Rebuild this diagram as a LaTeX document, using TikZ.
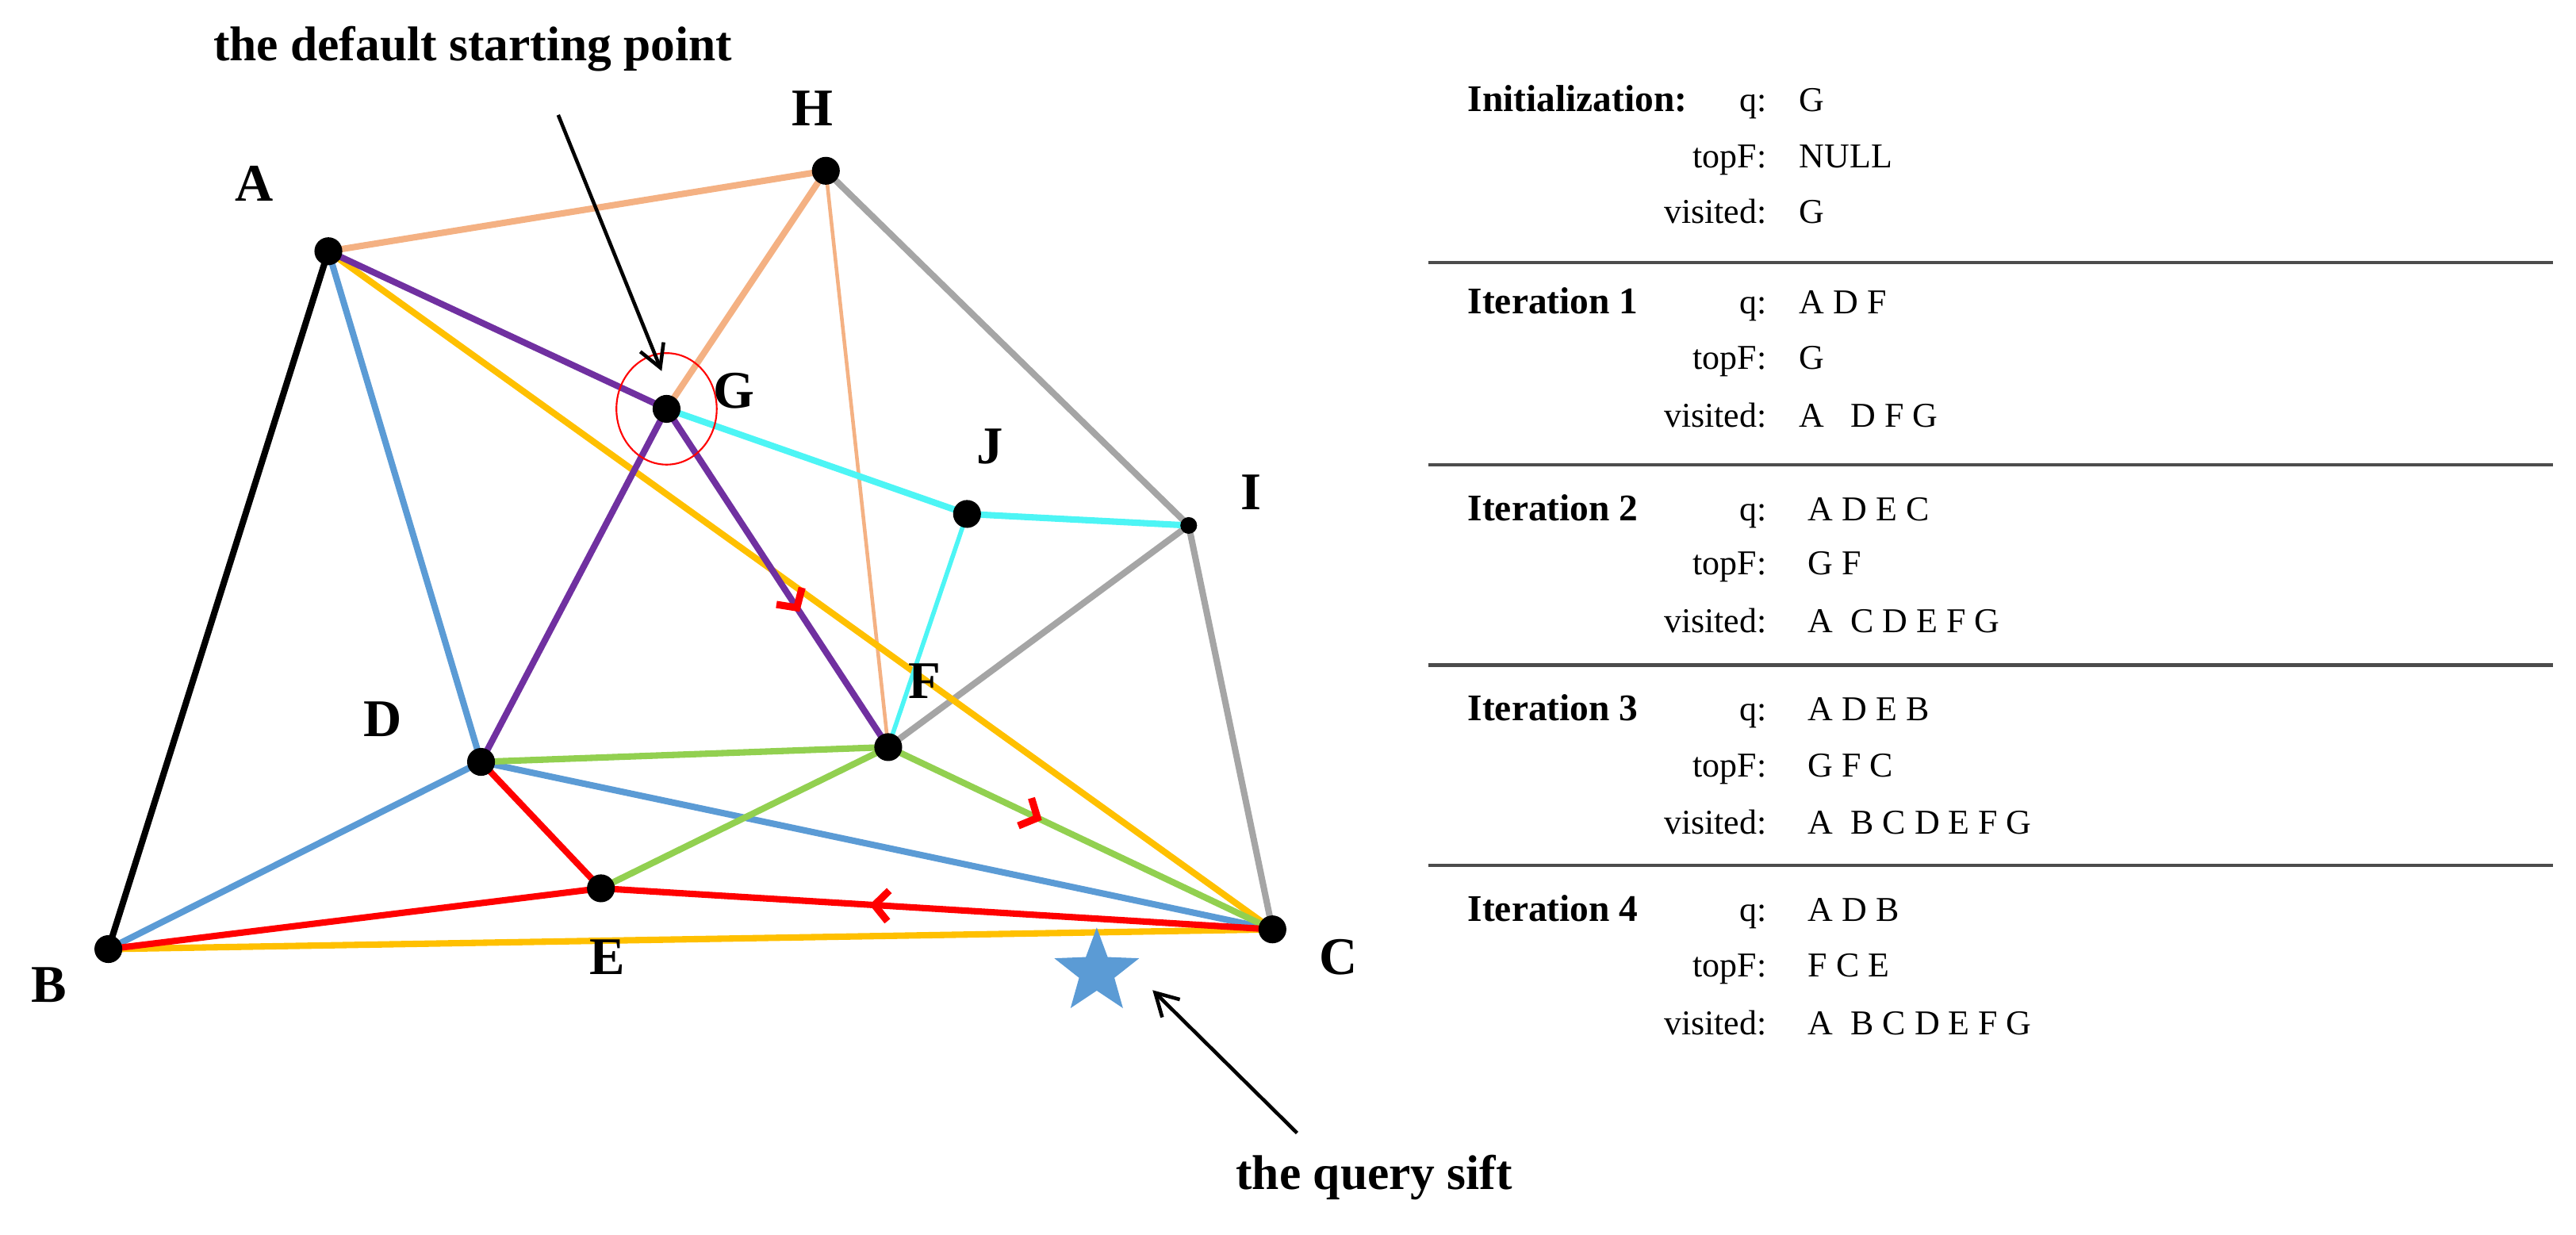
\documentclass[tikz,border=0pt]{standalone}
\usepackage{fontspec}
\setmainfont{Liberation Serif}
\usetikzlibrary{decorations.markings,arrows.meta,shapes.geometric}
\definecolor{peach}{HTML}{F4B183}
\definecolor{gry}{HTML}{A5A5A5}
\definecolor{blu}{HTML}{5B9BD5}
\definecolor{yel}{HTML}{FFC000}
\definecolor{pur}{HTML}{7030A0}
\definecolor{cya}{HTML}{4DF5F5}
\definecolor{grn}{HTML}{92D050}
\definecolor{rd}{HTML}{FF0000}
\tikzset{
 e/.style={line width=2.3pt},
 pt/.style={circle,fill=black,inner sep=0pt,minimum size=10pt},
 lab/.style={font=\fontsize{19}{22}\selectfont\bfseries},
 mid/.style={postaction={decorate},decoration={markings,mark=at position #1 with {\arrow[rd,line width=2.6pt]{Straight Barb[length=5pt,width=11pt]}}}},
 tl/.style={font=\fontsize{12.5}{14}\selectfont,anchor=base east},
 tv/.style={font=\fontsize{12.5}{14}\selectfont,anchor=base west},
 th/.style={font=\fontsize{13.5}{15}\selectfont\bfseries,anchor=base west},
 sep/.style={line width=1.2pt,draw=black!70}
}
\begin{document}
\begin{tikzpicture}[x=0.0207cm,y=-0.0207cm]
\useasboundingbox (0,0) rectangle (1569,752);
\coordinate (A) at (200,153); \coordinate (H) at (503,104); \coordinate (G) at (406,249);
\coordinate (J) at (589,313); \coordinate (I) at (724,320); \coordinate (F) at (541,455);
\coordinate (D) at (293,464); \coordinate (E) at (366,541); \coordinate (B) at (66,578);
\coordinate (C) at (775,566);
% edges
\draw[e,peach] (A)--(H); \draw[e,peach] (H)--(G); \draw[line width=1.3pt,peach] (H)--(F);
\draw[e,gry] (H)--(I); \draw[e,gry] (I)--(C); \draw[e,gry] (I)--(F);
\draw[e,yel] (A)--(C); \draw[e,yel] (B)--(C);
\draw[e,blu] (A)--(D); \draw[e,blu] (D)--(B); \draw[e,blu] (D)--(C);
\draw[e,black] (A)--(B);
\draw[e,pur] (A)--(G); \draw[e,pur] (G)--(D);
\draw[e,pur,mid=0.6] (G)--(F);
\draw[e,cya] (G)--(J); \draw[e,cya] (J)--(I); \draw[line width=1.6pt,cya] (J)--(F);
\draw[e,grn] (D)--(F); \draw[e,grn] (E)--(F); \draw[e,grn,mid=0.4] (F)--(C);
\draw[e,rd] (D)--(E); \draw[e,rd] (E)--(B); \draw[e,rd,mid=0.6] (C)--(E);
% points
\foreach \p in {A,H,G,J,F,D,E,B,C} \node[pt] (n\p) at (\p) {};
\node[pt,minimum size=6pt] (nI) at (I) {};
\node[draw=rd,line width=0.6pt,ellipse,minimum width=36pt,minimum height=40pt,inner sep=0pt] (ring) at (G) {};
% labels
\node[lab] (lA) at (155,112) {A}; \node[lab] (lH) at (495,66) {H};
\node[lab] (lG) at (447,238) {G}; \node[lab] (lJ) at (603,272) {J};
\node[lab] (lI) at (762,300) {I}; \node[lab] (lF) at (563,415) {F};
\node[lab] (lD) at (233,438) {D}; \node[lab] (lE) at (370,583) {E};
\node[lab] (lB) at (30,600) {B}; \node[lab] (lC) at (815,583) {C};
% star
\node[star,star points=5,star point ratio=2.4,fill=blu,minimum size=32pt,inner sep=0pt] (star) at (668,592) {};
% annotations
\node[font=\fontsize{17.5}{20}\selectfont\bfseries] (t1) at (288,30) {the default starting point};
\node[font=\fontsize{17.5}{20}\selectfont\bfseries] (t2) at (837,717) {the query sift};
\coordinate (a1s) at (340,70); \coordinate (a1e) at (403,226);
\coordinate (a2s) at (790,690); \coordinate (a2e) at (702,603);
\draw[line width=1.3pt,-{Straight Barb[length=8pt,width=9pt]}] (a1s)--(a1e);
\draw[line width=1.3pt,-{Straight Barb[length=8pt,width=9pt]}] (a2s)--(a2e);
% table
\def\cx{1082}\def\vx{1090}
\node[th] (h0) at (888,68) {Initialization:};
\node[tl] (q0) at (\cx,68) {q:}; \node[tv] (vq0) at (\vx,68) {G};
\node[tl] (f0) at (\cx,102) {topF:}; \node[tv] (vf0) at (\vx,102) {NULL};
\node[tl] (s0) at (\cx,136) {visited:}; \node[tv] (vs0) at (\vx,136) {G};
\draw[sep] (870,160)--(1555,160);
\node[th] (h1) at (888,191) {Iteration 1};
\node[tl] (q1) at (\cx,191) {q:}; \node[tv] (vq1) at (\vx,191) {A D F};
\node[tl] (f1) at (\cx,225) {topF:}; \node[tv] (vf1) at (\vx,225) {G};
\node[tl] (s1) at (\cx,260) {visited:}; \node[tv] (vs1) at (\vx,260) {A\ \ \ D F G};
\draw[sep] (870,283)--(1555,283);
\node[th] (h2) at (888,317) {Iteration 2};
\node[tl] (q2) at (\cx,317) {q:}; \node[tv] (vq2) at (\vx,317) {\ A D E C};
\node[tl] (f2) at (\cx,350) {topF:}; \node[tv] (vf2) at (\vx,350) {\ G F};
\node[tl] (s2) at (\cx,385) {visited:}; \node[tv] (vs2) at (\vx,385) {\ A\ \ C D E F G};
\draw[sep] (870,405)--(1555,405);
\node[th] (h3) at (888,439) {Iteration 3};
\node[tl] (q3) at (\cx,439) {q:}; \node[tv] (vq3) at (\vx,439) {\ A D E B};
\node[tl] (f3) at (\cx,473) {topF:}; \node[tv] (vf3) at (\vx,473) {\ G F C};
\node[tl] (s3) at (\cx,508) {visited:}; \node[tv] (vs3) at (\vx,508) {\ A\ \ B C D E F G};
\draw[sep] (870,527)--(1555,527);
\node[th] (h4) at (888,561) {Iteration 4};
\node[tl] (q4) at (\cx,561) {q:}; \node[tv] (vq4) at (\vx,561) {\ A D B};
\node[tl] (f4) at (\cx,595) {topF:}; \node[tv] (vf4) at (\vx,595) {\ F C E};
\node[tl] (s4) at (\cx,630) {visited:}; \node[tv] (vs4) at (\vx,630) {\ A\ \ B C D E F G};
\end{tikzpicture}
\end{document}
